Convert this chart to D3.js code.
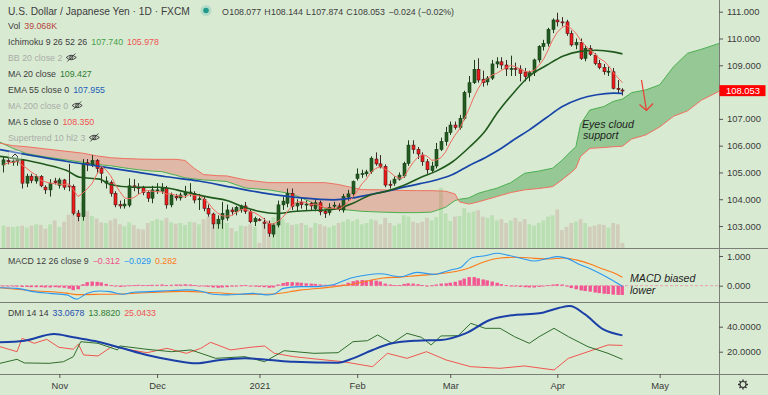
<!DOCTYPE html>
<html>
<head>
<meta charset="utf-8">
<script src="https://cdnjs.cloudflare.com/ajax/libs/d3/7.8.5/d3.min.js"></script>
<style>
  html, body { margin: 0; padding: 0; background: #d9ead3; }
  svg { display: block; font-family: "Liberation Sans", Arial, sans-serif; }
</style>
</head>
<body>
<div id="container"></div>
<script>
/* CONSTANTS AND GLOBALS */
const width = 768, height = 395, axisX = 719;
const mainBottom = 248, macdBottom = 302, dmiBottom = 374;
const bg = "#d9ead3";

/* DATA */
const startDate = "2020-10-15";
const holidays = ["2020-12-25"];

const opens = [105.28,105.45,105.38,105.42,105.48,104.60,104.86,104.68,104.85,104.45,
  104.35,104.68,104.52,104.72,104.50,104.48,103.48,103.35,105.36,105.28,
  105.44,105.15,104.60,104.62,104.22,103.80,103.75,103.78,104.50,104.45,
  104.45,104.25,104.04,104.32,104.30,104.40,103.79,104.10,104.05,104.16,
  104.25,104.22,104.00,104.00,103.66,103.45,103.08,103.25,103.30,103.60,
  103.53,103.60,103.75,103.53,103.16,103.24,103.15,103.10,102.70,103.04,
  103.79,103.85,104.22,103.75,103.88,103.80,103.85,103.65,103.87,103.55,
  103.50,103.75,103.75,103.60,104.08,104.20,104.78,104.94,104.95,105.03,
  105.50,105.32,105.22,104.56,104.60,104.75,104.87,105.34,106.02,105.86,
  105.65,105.40,105.07,105.24,105.86,106.15,106.49,106.77,106.68,107.02,
  107.98,108.35,108.85,108.48,108.38,108.52,109.05,109.13,109.01,108.86,
  108.88,108.86,108.75,108.60,108.73,109.20,109.70,109.82,110.34,110.69,
  110.62,110.62,110.19,109.76,109.85,109.26,109.63,109.38,109.07,108.92,
  108.76,108.76,108.14,108.077];
const highs = [105.60,105.55,105.50,105.60,105.50,104.95,104.95,104.92,104.90,104.52,
  104.75,104.80,104.80,104.76,105.32,104.55,103.60,105.50,105.50,105.65,
  105.50,105.20,104.85,104.70,104.30,103.95,104.00,104.78,104.75,104.60,
  104.50,104.30,104.50,104.60,104.60,104.50,104.25,104.20,104.25,104.50,
  104.60,104.30,104.20,104.10,103.80,103.50,103.40,103.90,103.80,103.70,
  103.75,103.80,103.90,103.60,103.35,103.30,103.30,103.20,103.10,103.95,
  104.10,104.40,104.40,104.00,104.05,103.95,103.90,104.00,103.95,103.60,
  103.85,103.90,103.85,104.20,104.35,104.70,105.15,105.10,105.10,105.60,
  105.75,105.65,105.30,104.70,104.85,105.00,105.40,106.20,106.20,105.95,
  105.75,105.50,105.40,106.10,106.30,106.70,106.90,106.90,107.15,108.05,
  108.60,109.20,109.26,108.80,108.60,109.20,109.30,109.30,109.20,109.36,
  109.10,109.00,108.90,108.80,109.25,109.75,109.95,110.40,110.75,110.96,
  110.80,110.70,110.30,110.00,110.00,109.75,109.75,109.45,109.20,109.05,
  108.95,108.90,108.45,108.144];
const lows = [105.00,105.30,105.25,105.25,104.40,104.45,104.60,104.58,104.45,104.20,
  104.10,104.55,104.40,104.35,104.30,103.40,103.18,103.20,105.05,105.20,
  104.95,104.60,104.40,104.10,103.70,103.65,103.65,103.70,104.30,104.20,
  104.15,103.90,103.85,104.20,104.20,103.65,103.70,103.95,103.95,104.05,
  104.10,103.85,103.60,103.55,103.35,102.90,102.90,102.90,103.20,103.40,
  103.40,103.50,103.45,103.10,103.00,103.18,102.90,102.60,102.58,102.95,
  103.60,103.70,103.60,103.55,103.65,103.60,103.60,103.55,103.40,103.30,
  103.40,103.60,103.55,103.50,103.95,104.10,104.70,104.80,104.85,104.95,
  105.25,105.15,104.45,104.40,104.50,104.70,104.80,105.25,105.70,105.50,
  105.25,104.95,105.00,105.15,105.80,106.00,106.40,106.60,106.60,106.95,
  107.80,108.30,108.35,108.20,108.25,108.45,108.90,108.85,108.60,108.60,
  108.60,108.40,108.40,108.40,108.60,109.10,109.55,109.70,110.20,110.45,
  110.45,110.10,109.70,109.60,109.20,109.15,109.35,109.00,108.85,108.65,
  108.60,108.10,107.95,107.874];
const closes = [105.47,105.40,105.42,105.48,104.60,104.86,104.70,104.85,104.50,104.35,
  104.60,104.62,104.72,104.45,104.48,103.48,103.35,105.34,105.28,105.44,
  105.15,104.97,104.68,104.22,103.79,103.75,103.82,104.50,104.45,104.40,
  104.25,104.04,104.35,104.35,104.42,103.79,104.16,104.05,104.16,104.25,
  104.27,103.97,104.02,103.66,103.45,103.08,103.25,103.47,103.60,103.53,
  103.70,103.75,103.55,103.16,103.28,103.22,103.10,102.73,103.04,103.79,
  103.93,104.22,103.73,103.85,103.80,103.82,103.75,103.87,103.53,103.47,
  103.70,103.78,103.62,104.10,104.20,104.66,104.94,104.96,105.02,105.53,
  105.32,105.22,104.53,104.52,104.75,104.90,105.34,106.02,105.86,105.69,
  105.40,105.10,105.24,105.86,106.15,106.49,106.77,106.68,107.02,107.98,
  108.35,108.85,108.45,108.35,108.52,109.05,109.13,109.01,108.86,108.88,
  108.86,108.70,108.58,108.73,109.20,109.70,109.82,110.34,110.69,110.62,
  110.60,110.19,109.76,109.85,109.26,109.63,109.41,109.07,108.91,108.76,
  108.78,108.14,108.10,108.053];
// volume in thousands
const volumes = [175,165,165,170,175,160,175,185,180,150,185,215,165,205,260,400,290,
  360,290,250,230,200,195,215,230,185,170,200,180,150,145,195,210,225,
  215,235,200,190,195,180,205,200,185,225,245,265,230,215,195,155,130,175,170,185,165,
  40,
  200,215,240,245,225,195,180,185,195,180,160,195,185,170,160,175,195,205,225,210,
  225,185,195,225,215,185,235,195,175,190,255,245,205,195,205,235,215,240,470,270,210,245,250,310,
  275,285,295,245,235,255,215,225,195,215,235,205,225,185,175,195,215,245,255,300,140,165,195,205,225,195,165,175,185,180,160,195,185,39];

const ma5 = [105.30,105.35,105.38,105.42,105.27,105.15,105.01,104.90,104.70,104.65,
  104.60,104.58,104.56,104.55,104.57,104.35,104.10,104.22,104.39,104.58,
  104.91,105.24,105.10,104.89,104.56,104.28,104.05,104.02,104.06,104.18,
  104.28,104.33,104.30,104.28,104.28,104.19,104.21,104.15,104.12,104.08,
  104.18,104.14,104.13,104.03,103.87,103.64,103.49,103.38,103.37,103.39,
  103.51,103.61,103.63,103.54,103.49,103.39,103.26,103.10,103.07,103.18,
  103.32,103.54,103.74,103.90,103.91,103.88,103.79,103.82,103.75,103.69,
  103.66,103.67,103.62,103.73,103.88,104.07,104.30,104.57,104.76,105.02,
  105.15,105.21,105.12,105.02,104.87,104.78,104.81,105.11,105.37,105.56,
  105.66,105.61,105.46,105.46,105.55,105.77,106.10,106.39,106.62,106.99,
  107.36,107.78,108.13,108.40,108.50,108.64,108.70,108.81,108.91,108.99,
  108.95,108.86,108.78,108.75,108.81,108.98,109.21,109.56,109.95,110.23,
  110.41,110.49,110.37,110.20,109.93,109.74,109.58,109.44,109.26,109.16,
  108.99,108.73,108.54,108.35];

// [bar index, value]
const ma20 = [[-0.75,105.6],[3.5,105.49],[9,105.3],[13.6,105.07],[16.4,104.82],[20.7,104.75],[22.9,104.55],
  [27.8,104.45],[33.6,104.45],[37.2,104.35],[40.8,104.2],[44.4,104.07],[48,103.95],[51.5,103.72],
  [55.1,103.54],[58.7,103.47],[62.3,103.54],[65.9,103.58],[69,103.6],[71.6,103.65],[75.1,103.85],
  [78.8,104.16],[82.3,104.3],[85.8,104.5],[89.5,104.8],[93,105.05],[96.5,105.4],[100.2,105.96],
  [103.5,106.55],[106,107.2],[109.5,107.95],[113,108.6],[116.7,109.0],[120.3,109.35],[123.9,109.52],
  [127.5,109.56],[131,109.5],[133,109.427]];
const ema55 = [[-0.75,105.85],[14,105.4],[21,105.22],[28,105.03],[35,104.84],[42,104.68],[49,104.45],
  [57,104.2],[64,104.05],[71,103.98],[75,104.05],[79,104.18],[82.4,104.3],[86,104.45],[89.5,104.58],
  [93,104.72],[96.5,104.92],[100,105.25],[103.5,105.55],[107,105.9],[109.5,106.2],[113,106.59],
  [116.7,107.05],[120,107.45],[123.9,107.75],[127.5,107.9],[131,107.96],[133,107.955]];

// Ichimoku leading spans (already displaced 26 bars)
const cloudIdx = [-1,2,5,9,13,17,20,23,26,29,32,34,37,39,41,43,46,48,52,57,62,66,69,72,74,77,81,85,89,92,95,97,98,100,102,104,106,109,112,115,118,120,122,123,124,126,129,131,133,135,138,141,144,147,150,154];
const spanA = [106.15,105.90,105.70,105.58,105.48,105.38,105.30,105.25,105.17,105.10,105.05,105.03,104.90,104.80,104.76,104.72,104.69,104.66,104.42,104.35,104.20,103.90,103.66,103.62,103.60,103.55,103.52,103.50,103.50,103.52,103.70,103.95,104.00,104.05,104.22,104.32,104.41,104.62,104.97,105.05,105.16,105.45,105.80,105.96,106.80,107.33,107.46,107.65,107.74,107.98,108.08,108.27,108.95,109.45,109.60,109.83];
const spanB = [106.10,106.00,105.96,105.88,105.80,105.72,105.62,105.55,105.52,105.50,105.49,105.49,105.49,105.45,105.15,104.92,104.88,104.87,104.72,104.62,104.62,104.62,104.62,104.55,104.47,104.36,104.35,104.33,104.32,104.32,104.30,104.20,103.90,103.82,103.90,104.00,104.10,104.25,104.35,104.40,104.47,104.72,105.00,105.16,105.60,105.90,105.93,105.96,105.98,106.25,106.40,106.70,107.10,107.30,107.70,108.05];

const macdLine = [[-0.75,-0.07],[2.8,-0.09],[6.4,-0.2],[10,-0.26],[13.6,-0.31],[15.7,-0.45],[17.9,-0.26],[20.7,-0.18],
  [22.9,-0.2],[25.7,-0.29],[27.9,-0.22],[31.5,-0.2],[35,-0.17],[39.4,-0.14],[42.2,-0.18],[45,-0.29],[48,-0.31],
  [50.8,-0.29],[53.6,-0.26],[56.6,-0.31],[58,-0.29],[60.1,-0.09],[63.7,-0.03],[67.3,-0.03],[70.8,0.03],[74.5,0.25],
  [78,0.36],[80.9,0.4],[85.3,0.3],[88.9,0.45],[92.5,0.38],[96.1,0.53],[98.2,0.61],[100.4,0.92],[101.8,0.98],
  [103.2,1.0],[106.1,1.09],[108.3,1.03],[111.8,0.9],[114,0.83],[116.9,0.92],[119,0.98],[121.1,0.92],[123.3,0.75],
  [126.2,0.56],[129,0.34],[131.9,0.08],[133,-0.029]];
const signalLine = [[-0.75,-0.07],[6.4,-0.17],[13.6,-0.25],[15.7,-0.3],[20.7,-0.29],[26.5,-0.27],[31.5,-0.23],
  [38.6,-0.19],[45.8,-0.24],[52.9,-0.29],[58,-0.28],[63.7,-0.15],[70.8,-0.04],[74.5,0.04],[78,0.15],[81.6,0.26],
  [85.3,0.29],[88.9,0.34],[92.5,0.38],[96.1,0.45],[99.7,0.58],[103.2,0.8],[106.8,0.93],[110.3,0.96],[114,0.92],
  [117.6,0.9],[120.4,0.93],[123.3,0.86],[126.2,0.72],[129,0.55],[131.9,0.38],[133,0.282]];
const macdHist = [-0.01,-0.01,-0.02,
  -0.03,-0.04,-0.04,-0.05,-0.05,-0.05,-0.06,-0.06,-0.05,-0.06,-0.07,
  -0.10,-0.15,-0.12,
  0.05,0.12,0.14,0.13,0.11,0.06,
  0.02,-0.02,-0.04,-0.03,
  0.01,0.02,0.03,0.02,0.02,0.03,
  0.03,0.04,0.02,0.03,0.04,0.04,
  0.05,0.04,0.02,0.0,-0.02,
  -0.04,-0.06,-0.07,-0.06,-0.05,-0.03,
  -0.01,0.01,0.02,-0.01,-0.03,
  -0.04,-0.05,-0.07,-0.06,
  0.04,0.09,0.12,0.12,0.11,
  0.10,0.08,0.07,0.06,0.04,0.03,0.02,0.02,
  0.01,0.04,0.10,0.15,
  0.18,0.19,0.18,0.20,0.17,0.14,
  0.07,0.04,0.02,0.02,
  0.06,0.08,0.07,0.05,
  0.02,0.0,0.01,
  0.04,0.07,0.08,0.10,0.13,
  0.18,0.24,0.29,0.29,
  0.25,0.21,0.18,0.14,0.10,
  0.05,0.02,0.0,-0.02,-0.04,
  -0.05,-0.06,-0.06,-0.04,-0.01,
  0.02,0.04,0.05,0.04,
  -0.03,-0.08,-0.12,-0.16,-0.18,
  -0.20,-0.23,-0.25,-0.27,-0.28,
  -0.30,-0.31,-0.312];

const adx = [[-0.75,27.5],[4.5,28.8],[10.9,34.2],[15,31.5],[20.3,28],[25.6,22.7],[30.8,17.4],[36.1,13.4],
  [41.4,10.7],[46.6,13.4],[51.9,14.7],[57.2,13.4],[62.4,12],[71.9,11.2],[75.1,14.7],[79.3,21.4],[83.5,26.7],
  [88.8,28.8],[94,29.4],[99.3,34.7],[104.5,45.4],[109.8,49.4],[115.1,50.7],[119.3,55],[121.7,56.5],[124.9,50],
  [128.8,38],[133,33.0678]];
const plusDI = [[-0.75,10.7],[2.9,13.9],[4.5,11],[9.8,10.7],[12.9,12],[15,16],[16.6,28],[20.3,26.7],[24.5,21.4],
  [25,24.6],[30.85,21.9],[36.1,20],[40.3,21.4],[45.6,14.7],[51.9,16],[56.1,12],[60.3,20.8],[66.7,18.7],[71.9,19.2],
  [75.1,28],[78.2,28.8],[80.4,33.4],[83.5,26.7],[86.7,34.7],[89.8,31.5],[91.9,25.4],[94,32.6],[97.7,32.8],
  [100.4,42.7],[103.5,38.7],[106.7,38.7],[109.8,32],[113,26.7],[115.1,32],[118.3,38.7],[121.4,32],[125.6,24],
  [129.9,18.7],[133,13.882]];
const minusDI = [[-0.75,24],[2.9,20],[4,30.7],[6.6,26.7],[9.3,29.9],[11.9,23.5],[15,22],[16.1,26],[17.2,17.4],
  [20.3,16.6],[23.5,24.6],[26.6,21.9],[30.85,19.2],[35.1,22.7],[39.3,18.7],[42.4,22.7],[44.5,27.5],[48.8,21.4],
  [53,23.5],[56.1,24.6],[58.2,18.7],[62.4,16],[67.7,13.9],[73,12],[79.3,8],[82.5,18.7],[86.7,14.7],[90.9,20],
  [95.1,13.4],[100.4,8],[106.7,6.7],[111.9,8.6],[118.3,5.4],[121.4,14.7],[125.6,20],[129.9,25.4],[133,25.0433]];

const priceTicks = [103, 104, 105, 106, 107, 108, 109, 110, 111];
const macdTicks = [0, 1];
const dmiTicks = [20, 40];
const monthTickDates = ["2020-11-02","2020-12-01","2021-01-01","2021-02-01","2021-03-01","2021-04-01","2021-05-03"];
const monthLabels = ["Nov","Dec","2021","Feb","Mar","Apr","May"];

/* DATES (weekday bars) */
const parse = d3.timeParse("%Y-%m-%d"), fmt = d3.timeFormat("%Y-%m-%d");
const days = d3.timeDays(parse(startDate), parse("2021-06-01"))
  .filter(d => d.getDay() % 6 !== 0 && !holidays.includes(fmt(d)));
const tickIdx = monthTickDates.map(s => days.findIndex(d => fmt(d) === s));

const candles = closes.map((c, i) => ({ i, o: opens[i], h: highs[i], l: lows[i], c, v: volumes[i] }));
const cloud = cloudIdx.map((i, k) => ({ i, a: spanA[k], b: spanB[k] }));
const last = candles[candles.length - 1];

/* SCALES */
const x = d3.scaleLinear().domain([-0.75, 153.75]).range([0, axisX]);
const yP = d3.scaleLinear().domain([102.18, 111.437]).range([mainBottom, 0]);
const yV = d3.scaleLinear().domain([0, 480]).range([mainBottom, mainBottom - 480 / 7.8]);
const yM = d3.scaleLinear().domain([-0.549, 1.269]).range([macdBottom, mainBottom]);
const yD = d3.scaleLinear().domain([2.16, 59.76]).range([dmiBottom, macdBottom]);

/* SVG */
const svg = d3.select("#container").append("svg").attr("width", width).attr("height", height);
svg.append("rect").attr("width", width).attr("height", height).attr("fill", bg);

const defs = svg.append("defs");
[["clipMain", 0, mainBottom], ["clipMacd", mainBottom, macdBottom], ["clipDmi", macdBottom, dmiBottom]].forEach(([id, y0, y1]) => {
  defs.append("clipPath").attr("id", id).append("rect")
    .attr("x", 0).attr("y", y0).attr("width", axisX).attr("height", y1 - y0);
});
defs.append("clipPath").attr("id", "clipAboveB").append("path")
  .attr("d", d3.area().x(d => x(d.i)).y0(0).y1(d => yP(d.b))(cloud));
defs.append("clipPath").attr("id", "clipBelowB").append("path")
  .attr("d", d3.area().x(d => x(d.i)).y0(mainBottom).y1(d => yP(d.b))(cloud));

const main = svg.append("g").attr("clip-path", "url(#clipMain)");

// VOLUME
main.selectAll("rect.vol").data(candles).join("rect")
  .attr("class", "vol")
  .attr("x", d => x(d.i) - 1.9).attr("width", 3.8)
  .attr("y", d => yV(d.v)).attr("height", d => mainBottom - yV(d.v))
  .attr("fill", d => d.c >= d.o ? "rgba(120,200,112,0.32)" : "rgba(190,140,130,0.3)");

// ICHIMOKU CLOUD
const band = d3.area().x(d => x(d.i)).y0(d => yP(d.b)).y1(d => yP(d.a));
main.append("g").attr("clip-path", "url(#clipAboveB)")
  .append("path").attr("d", band(cloud)).attr("fill", "rgba(67,160,71,0.45)");
main.append("g").attr("clip-path", "url(#clipBelowB)")
  .append("path").attr("d", band(cloud)).attr("fill", "rgba(239,83,80,0.33)");
main.append("path").attr("d", d3.line().x(d => x(d.i)).y(d => yP(d.a))(cloud))
  .attr("fill", "none").attr("stroke", "#4caf50").attr("stroke-width", 1);
main.append("path").attr("d", d3.line().x(d => x(d.i)).y(d => yP(d.b))(cloud))
  .attr("fill", "none").attr("stroke", "#f07060").attr("stroke-width", 1);

// CANDLES
const cg = main.append("g");
cg.selectAll("line.wick").data(candles).join("line")
  .attr("class", "wick")
  .attr("x1", d => Math.round(x(d.i)) + 0.5).attr("x2", d => Math.round(x(d.i)) + 0.5)
  .attr("y1", d => yP(d.h)).attr("y2", d => yP(d.l))
  .attr("stroke", d => d.c >= d.o ? "#1d3d1a" : "#3a2a2a").attr("stroke-width", 1);
cg.selectAll("rect.body").data(candles).join("rect")
  .attr("class", "body")
  .attr("x", d => Math.round(x(d.i)) - 1).attr("width", 3)
  .attr("y", d => yP(Math.max(d.o, d.c)))
  .attr("height", d => Math.max(1, Math.abs(yP(d.o) - yP(d.c))))
  .attr("fill", d => d.c >= d.o ? "#235c21" : "#f41a1a")
  .attr("stroke", d => d.c >= d.o ? "#173c15" : "#4a1a1a").attr("stroke-width", 0.6);

// MOVING AVERAGES
const smooth = (ys) => d3.line().x(d => x(d[0])).y(d => ys(d[1])).curve(d3.curveMonotoneX);
main.append("path").attr("d", smooth(yP)(ema55)).attr("fill", "none").attr("stroke", "#1746a8").attr("stroke-width", 1.7);
main.append("path").attr("d", smooth(yP)(ma20)).attr("fill", "none").attr("stroke", "#1f5a1c").attr("stroke-width", 1.6);
main.append("path").attr("d", d3.line().x((d, i) => x(i)).y(d => yP(d))(ma5))
  .attr("fill", "none").attr("stroke", "#f26a5e").attr("stroke-width", 1);

// MACD PANE
const mg = svg.append("g").attr("clip-path", "url(#clipMacd)");
mg.append("line").attr("x1", 0).attr("x2", axisX).attr("y1", yM(0)).attr("y2", yM(0))
  .attr("stroke", "#f0508a").attr("stroke-width", 0.8).attr("stroke-dasharray", "3,2").attr("opacity", 0.6);
mg.selectAll("rect.hist").data(macdHist).join("rect")
  .attr("class", "hist")
  .attr("x", (d, i) => Math.round(x(i)) - 1.5).attr("width", 3.4)
  .attr("y", d => Math.min(yM(0), yM(d))).attr("height", d => Math.max(0.8, Math.abs(yM(d) - yM(0))))
  .attr("fill", "#f25591");
mg.append("path").attr("d", smooth(yM)(signalLine)).attr("fill", "none").attr("stroke", "#ff7a1a").attr("stroke-width", 1.1);
mg.append("path").attr("d", smooth(yM)(macdLine)).attr("fill", "none").attr("stroke", "#2a98f0").attr("stroke-width", 1.1);

// DMI PANE
const dg = svg.append("g").attr("clip-path", "url(#clipDmi)");
const jag = d3.line().x(d => x(d[0])).y(d => yD(d[1]));
dg.append("path").attr("d", jag(minusDI)).attr("fill", "none").attr("stroke", "#f0564e").attr("stroke-width", 1);
dg.append("path").attr("d", jag(plusDI)).attr("fill", "none").attr("stroke", "#2f6e2c").attr("stroke-width", 1);
dg.append("path").attr("d", smooth(yD)(adx)).attr("fill", "none").attr("stroke", "#1a3fa6").attr("stroke-width", 2);

// SEPARATORS
[mainBottom, macdBottom, dmiBottom].forEach(yy => {
  svg.append("line").attr("x1", 0).attr("x2", width).attr("y1", yy + 0.5).attr("y2", yy + 0.5)
    .attr("stroke", "#7a7d78").attr("stroke-width", 1);
});
svg.append("line").attr("x1", axisX + 0.5).attr("x2", axisX + 0.5).attr("y1", 0).attr("y2", height)
  .attr("stroke", "#7a7d78").attr("stroke-width", 1);

// AXES
const styleAxis = g => {
  g.select(".domain").remove();
  g.selectAll("text").attr("font-size", 9.4).attr("fill", "#3a3a3a").attr("font-family", "Liberation Sans, Arial, sans-serif");
  g.selectAll("line").attr("stroke", "#555");
};
// the last-price label hides the price tick it covers
const shownPriceTicks = priceTicks.filter(p => Math.abs(yP(p) - yP(last.c)) > 9);
svg.append("g").attr("transform", `translate(${axisX},0)`)
  .call(d3.axisRight(yP).tickValues(shownPriceTicks).tickFormat(d3.format(".3f")).tickSize(4).tickPadding(4))
  .call(styleAxis);
svg.append("g").attr("transform", `translate(${axisX},0)`)
  .call(d3.axisRight(yM).tickValues(macdTicks).tickFormat(d3.format(".3f")).tickSize(4).tickPadding(4))
  .call(styleAxis);
svg.append("g").attr("transform", `translate(${axisX},0)`)
  .call(d3.axisRight(yD).tickValues(dmiTicks).tickFormat(d3.format(".4f")).tickSize(4).tickPadding(4))
  .call(styleAxis);
svg.append("g").attr("transform", `translate(0,${dmiBottom})`)
  .call(d3.axisBottom(x).tickValues(tickIdx).tickFormat((d, k) => monthLabels[k]).tickSize(4).tickPadding(4))
  .call(styleAxis);

// LAST PRICE LABEL
svg.append("rect").attr("x", axisX + 0.5).attr("y", yP(last.c) - 5.5).attr("width", 46).attr("height", 11).attr("fill", "#ff0000");
svg.append("text").attr("x", axisX + 7).attr("y", yP(last.c)).attr("dy", "0.34em")
  .attr("font-size", 9.4).attr("fill", "#fff").text(d3.format(".3f")(last.c));

// GEAR ICON
const gear = svg.append("g").attr("transform", "translate(743,384.5)").attr("stroke", "#333").attr("fill", "none");
gear.append("circle").attr("r", 3).attr("stroke-width", 1.1);
d3.range(8).forEach(k => {
  const a = k * Math.PI / 4;
  gear.append("line").attr("x1", Math.cos(a) * 3).attr("y1", Math.sin(a) * 3)
    .attr("x2", Math.cos(a) * 5).attr("y2", Math.sin(a) * 5).attr("stroke-width", 1.4);
});

// LEGENDS
const dark = "#3d3d3d", faded = "#a9aca6";
function eye(cx, cy) {
  const g = svg.append("g").attr("transform", `translate(${cx},${cy})`).attr("stroke", "#333").attr("fill", "none").attr("stroke-width", 0.9);
  g.append("path").attr("d", "M-5,0 Q0,-4.5 5,0 Q0,4.5 -5,0 Z");
  g.append("circle").attr("r", 1.6);
  g.append("line").attr("x1", -4).attr("y1", 4).attr("x2", 4).attr("y2", -4);
}
function legend(x0, yb, size, parts) {
  let cx = x0;
  parts.forEach(p => {
    if (p.eye) { eye(cx + 5, yb - 3); cx += 14; return; }
    const t = svg.append("text").attr("x", cx).attr("y", yb).attr("font-size", size).attr("fill", p.color || dark).text(p.text);
    cx += t.node().getComputedTextLength() + (p.gap === undefined ? 4 : p.gap);
  });
  return cx;
}

legend(8, 15, 10.2, [{ text: "U.S. Dollar / Japanese Yen · 1D · FXCM" }]);
svg.append("circle").attr("cx", 206).attr("cy", 10.5).attr("r", 5.5).attr("fill", "rgba(38,166,154,0.2)");
svg.append("circle").attr("cx", 206).attr("cy", 10.5).attr("r", 2.8).attr("fill", "#1f9a8c");
legend(222, 14.5, 8.8, [
  { text: "O", gap: 0.4 }, { text: "108.077", gap: 3.2 },
  { text: "H", gap: 0.4 }, { text: "108.144", gap: 3.2 },
  { text: "L", gap: 0.4 }, { text: "107.874", gap: 3.2 },
  { text: "C", gap: 0.4 }, { text: "108.053", gap: 3.6 },
  { text: "−0.024 (−0.02%)" }]);

const rows = [
  [{ text: "Vol" }, { text: "39.068K", color: "#b5443c" }],
  [{ text: "Ichimoku 9 26 52 26" }, { text: "107.740", color: "#43a047" }, { text: "105.978", color: "#ef5350" }],
  [{ text: "BB 20 close 2", color: faded }, { eye: true }],
  [{ text: "MA 20 close" }, { text: "109.427", color: "#2e7d32" }],
  [{ text: "EMA 55 close 0" }, { text: "107.955", color: "#1e5fb4" }],
  [{ text: "MA 200 close 0", color: faded }, { eye: true }],
  [{ text: "MA 5 close 0" }, { text: "108.350", color: "#ef5350" }],
  [{ text: "Supertrend 10 hl2 3", color: faded }, { eye: true }]
];
rows.forEach((r, k) => legend(8, 28.5 + k * 16, 8.8, r));

legend(8, 264, 8.8, [{ text: "MACD 12 26 close 9" }, { text: "−0.312", color: "#f0508a" },
  { text: "−0.029", color: "#2196f3" }, { text: "0.282", color: "#ff7a1a" }]);
legend(8, 316, 8.8, [{ text: "DMI 14 14" }, { text: "33.0678", color: "#1e4fb0" },
  { text: "13.8820", color: "#2e7d32" }, { text: "25.0433", color: "#ef5350" }]);

// COLLAPSE BUTTON
svg.append("rect").attr("x", 8.5).attr("y", 150.5).attr("width", 13).attr("height", 10).attr("rx", 2)
  .attr("fill", "rgba(255,255,255,0.35)").attr("stroke", "rgba(120,120,120,0.4)").attr("stroke-width", 0.6);
svg.append("path").attr("d", "M12,157 L15,154 L18,157").attr("fill", "none").attr("stroke", "#333").attr("stroke-width", 1);

// ANNOTATIONS
svg.append("text").attr("x", 582).attr("y", 128).attr("font-size", 10.6).attr("font-style", "italic")
  .attr("fill", "#1e1e1e").text("Eyes cloud");
svg.append("text").attr("x", 583).attr("y", 138.5).attr("font-size", 10.6).attr("font-style", "italic")
  .attr("fill", "#1e1e1e").text("support");
svg.append("text").attr("x", 630).attr("y", 282).attr("font-size", 10.6).attr("font-style", "italic")
  .attr("fill", "#1e1e1e").text("MACD biased");
svg.append("text").attr("x", 630).attr("y", 293.5).attr("font-size", 10.6).attr("font-style", "italic")
  .attr("fill", "#1e1e1e").text("lower");
svg.append("path").attr("d", "M641.5,80 L646.5,110.5 M639.5,104.5 L646.5,110.5 L653,103.5")
  .attr("fill", "none").attr("stroke", "#f03c32").attr("stroke-width", 1.2);
</script>
</body>
</html>
